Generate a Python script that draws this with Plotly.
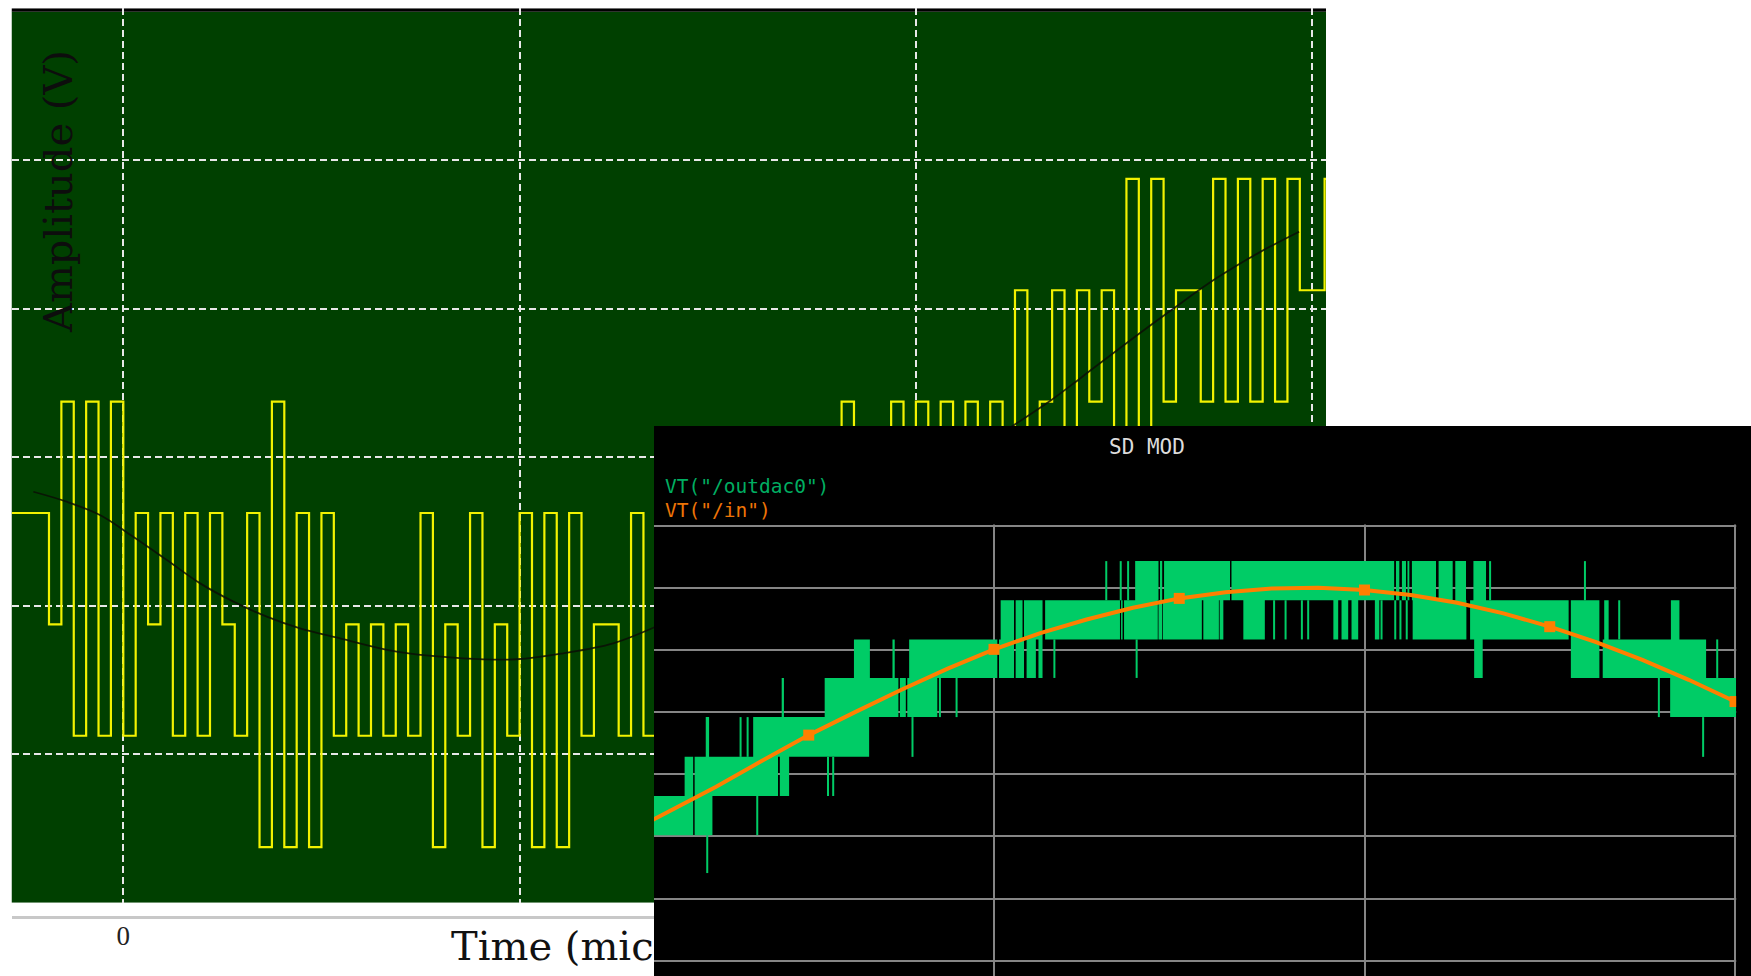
import plotly.graph_objects as go

W, H = 1751, 976

# ---------------- back chart: 3-bit modulator bitstream and its input ----------------
MOD_T0 = -9 / 32      # first clock interval start (grid units)
MOD_DT = 1 / 32       # clock period
# quantizer output, one value per clock period
mod_levels = [
    -0.375, -0.375, -0.375, -1.125, 0.375, -1.875, 0.375, -1.875,
    0.375, -1.875, -0.375, -1.125, -0.375, -1.875, -0.375, -1.875,
    -0.375, -1.125, -1.875, -0.375, -2.625, 0.375, -2.625, -0.375,
    -2.625, -0.375, -1.875, -1.125, -1.875, -1.125, -1.875, -1.125,
    -1.875, -0.375, -2.625, -1.125, -1.875, -0.375, -2.625, -1.125,
    -1.875, -0.375, -2.625, -0.375, -2.625, -0.375, -1.875, -1.125,
    -1.125, -1.875, -0.375, -1.875, -1.125, -0.375, -1.125, -0.375,
    -1.875, -0.375, -1.125, -0.375, -1.125, -0.375, -1.875, -0.375,
    -1.125, -0.375, -1.125, 0.375, -0.375, -1.125, -0.375, 0.375,
    -0.375, 0.375, -0.375, 0.375, -0.375, 0.375, -0.375, 0.375,
    -0.375, 1.125, -0.375, 0.375, 1.125, -0.375, 1.125, 0.375,
    1.125, -0.375, 1.875, -0.375, 1.875, 0.375, 1.125, 1.125,
    0.375, 1.875, 0.375, 1.875, 0.375, 1.875, 0.375, 1.875,
    1.125, 1.125, 1.875, 1.875,
]
# analog input applied to the modulator
input_t = [-0.227, -0.143, -0.059, 0.025, 0.110, 0.194, 0.278, 0.362, 0.446,
           0.547, 0.690, 0.858, 0.993, 1.110, 1.236, 1.354, 1.500, 1.700,
           1.900, 2.100, 2.242, 2.342, 2.420, 2.532, 2.644, 2.755, 2.867, 2.967]
input_v = [-0.232, -0.299, -0.389, -0.535, -0.692, -0.849, -0.972, -1.073, -1.152,
           -1.219, -1.309, -1.354, -1.360, -1.320, -1.253, -1.129, -0.950, -0.660,
           -0.360, -0.050, 0.207, 0.386, 0.543, 0.770, 0.990, 1.200, 1.380, 1.519]
back_grid_x = [0, 1, 2, 3]
back_grid_y = [-2, -1, 0, 1, 2]
back_tick_text = ["0", "", "", ""]
BACK_XR = [-0.2821, 3.0348]
BACK_YR = [-3.0, 3.0236]

# ---------------- front chart: SD MOD transient (time in us, volts) ----------------
in_t = [0, 1.25, 2.5, 3.75, 5, 6.25, 7.5, 8.75, 10, 11.25, 12.5, 13.75, 15,
        16.25, 17.5, 18.75, 20, 21.25, 22.5, 23.75, 25, 26.25, 27.5, 28.75, 30]
in_v = [0.502, 0.541, 0.580, 0.622, 0.663, 0.700, 0.736, 0.770, 0.801, 0.827,
        0.849, 0.868, 0.883, 0.893, 0.899, 0.900, 0.8965, 0.8885, 0.876, 0.859,
        0.8375, 0.8125, 0.784, 0.752, 0.717]

# DAC output levels
L0, L1, L2, L3, L4, L5, L6, L7, L8 = 0.441, 0.502, 0.565, 0.628, 0.692, 0.755, 0.817, 0.880, 0.943
# spans where outdac0 toggles between two adjacent levels: (t_start, t_end, low, high)
dac_bands = [
    (0.82, 1.88, L1, L2), (1.92, 2.40, L1, L2),
    (1.65, 1.88, L2, L3), (1.92, 4.17, L2, L3), (4.22, 4.47, L2, L3),
    (2.22, 2.31, L3, L4), (3.50, 6.63, L3, L4),
    (4.27, 4.33, L4, L5), (5.43, 7.42, L4, L5), (7.46, 7.62, L4, L5), (7.66, 8.47, L4, L5),
    (6.22, 6.65, L5, L6), (7.26, 7.32, L5, L6), (7.71, 10.09, L5, L6), (10.135, 10.54, L5, L6),
    (10.585, 10.81, L5, L6), (10.88, 11.13, L5, L6), (11.20, 11.31, L5, L6),
    (10.18, 10.54, L6, L7), (10.585, 10.77, L6, L7), (10.81, 11.31, L6, L7), (11.38, 13.40, L6, L7),
    (13.43, 13.47, L6, L7), (13.51, 14.42, L6, L7), (14.44, 14.54, L6, L7), (14.56, 15.61, L6, L7),
    (15.65, 16.07, L6, L7), (16.09, 16.19, L6, L7), (16.73, 17.31, L6, L7), (19.16, 19.29, L6, L7),
    (19.38, 19.56, L6, L7), (19.65, 19.83, L6, L7), (20.28, 20.40, L6, L7), (21.30, 22.75, L6, L7),
    (22.85, 25.51, L6, L7), (25.57, 26.34, L6, L7), (26.47, 26.59, L6, L7), (28.27, 28.50, L6, L7),
    (13.81, 14.44, L7, L8), (14.48, 14.54, L7, L8), (14.59, 16.37, L7, L8), (16.41, 20.80, L7, L8),
    (20.85, 20.94, L7, L8), (21.01, 21.12, L7, L8), (21.16, 21.21, L7, L8), (21.28, 21.93, L7, L8),
    (22.00, 22.38, L7, L8), (22.45, 22.74, L7, L8), (22.94, 23.28, L7, L8),
    (22.96, 23.19, L5, L6), (25.57, 26.34, L5, L6), (26.43, 29.22, L5, L6),
    (28.25, 30.03, L4, L5),
]
# isolated single-step excursions: (t, low, high)
dac_spikes = [
    (2.26, L0, L1), (3.16, L3, L4), (3.35, L3, L4), (3.61, L1, L2),
    (5.52, L2, L3), (5.66, L2, L3), (7.80, L3, L4), (8.54, L4, L5), (8.99, L4, L5),
    (11.63, L5, L6), (13.03, L7, L8), (13.42, L7, L8), (13.62, L7, L8), (13.85, L5, L6),
    (17.56, L6, L7), (17.87, L6, L7), (18.31, L6, L7), (18.48, L6, L7),
    (20.46, L6, L7), (20.83, L6, L7), (20.97, L6, L7), (21.14, L6, L7),
    (23.39, L7, L8), (25.95, L7, L8), (26.875, L6, L7), (27.945, L4, L5),
    (29.14, L3, L4), (29.52, L5, L6),
]
front_grid_x = [10, 20, 30]
front_grid_y = [0.3, 0.4, 0.5, 0.6, 0.7, 0.8, 0.9, 1.0]
FRONT_XR = [0.8232, 30.432]
FRONT_YR = [0.27535, 1.16044]

# ---------------- build the figure ----------------
fig = go.Figure()

# back chart traces (subplot xy)
fig.add_trace(go.Scatter(
    x0=MOD_T0, dx=MOD_DT, y=mod_levels, mode="lines",
    line=dict(shape="hv", color="#F2F200", width=2.2),
    xaxis="x", yaxis="y", hoverinfo="skip"))
fig.add_trace(go.Scatter(
    x=input_t, y=input_v, mode="lines",
    line=dict(color="rgba(10,14,6,0.85)", width=1.8, shape="spline"),
    xaxis="x", yaxis="y", hoverinfo="skip"))

# axis caption under the back chart (subplot x2y2, covered by the front chart)
fig.add_trace(go.Scatter(
    x=[0.827], y=[0.45], text=["Time (microseconds)"], mode="text",
    textposition="middle right",
    textfont=dict(family="DejaVu Serif", size=40, color="#111111"),
    xaxis="x2", yaxis="y2", hoverinfo="skip"))

# front chart traces (subplot x3y3)
band_x, band_y = [], []
for t0, t1, lo, hi in dac_bands:
    band_x += [t0, t1, t1, t0, t0, None]
    band_y += [lo, lo, hi, hi, lo, None]
fig.add_trace(go.Scatter(
    x=band_x, y=band_y, mode="lines", fill="toself", fillcolor="#00CC66",
    line=dict(width=0, color="#00CC66"),
    xaxis="x3", yaxis="y3", hoverinfo="skip"))

spike_x, spike_y = [], []
for t, lo, hi in dac_spikes:
    spike_x += [t, t, None]
    spike_y += [lo, hi, None]
fig.add_trace(go.Scatter(
    x=spike_x, y=spike_y, mode="lines",
    line=dict(width=2, color="#00CC66"),
    xaxis="x3", yaxis="y3", hoverinfo="skip"))

fig.add_trace(go.Scatter(
    x=in_t, y=in_v, mode="lines+markers",
    line=dict(color="#FF7F00", width=4),
    marker=dict(symbol="square", color="#FF7F00", opacity=1,
                line=dict(width=0, color="#FF7F00"),
                size=[11 if t % 5 == 0 else 0 for t in in_t]),
    xaxis="x3", yaxis="y3", hoverinfo="skip"))

shapes = [
    # back chart plot area and its dark top rim
    dict(type="rect", xref="x", yref="y", x0=BACK_XR[0], x1=BACK_XR[1],
         y0=BACK_YR[0], y1=3.0, fillcolor="#004000", line=dict(width=0), layer="below"),
    dict(type="rect", xref="x", yref="y", x0=BACK_XR[0], x1=BACK_XR[1],
         y0=3.0, y1=BACK_YR[1], fillcolor="#000000", line=dict(width=0), layer="below"),
    # front chart window
    dict(type="rect", xref="x3", yref="y3", x0=FRONT_XR[0], x1=FRONT_XR[1],
         y0=FRONT_YR[0], y1=FRONT_YR[1], fillcolor="#000000", line=dict(width=0), layer="below"),
    # header strip and right margin of the front window
    dict(type="rect", xref="paper", yref="paper", x0=654 / W, x1=1.0,
         y0=1 - 524.6 / H, y1=1 - 426 / H, fillcolor="#000000", line=dict(width=0), layer="above"),
    dict(type="rect", xref="paper", yref="paper", x0=1736.2 / W, x1=1.0,
         y0=0, y1=1 - 426 / H, fillcolor="#000000", line=dict(width=0), layer="above"),
]

annotations = [
    dict(text="Amplitude (V)", x=58 / W, y=1 - 192 / H, xref="paper", yref="paper",
         textangle=-90, showarrow=False, xanchor="center", yanchor="middle",
         font=dict(family="DejaVu Serif", size=40, color="#0d0d0d")),
    dict(text="SD MOD", x=1146.7 / W, y=1 - 447.3 / H, xref="paper", yref="paper",
         showarrow=False, xanchor="center", yanchor="middle",
         font=dict(family="DejaVu Sans Mono", size=21, color="#DCDCDC")),
    dict(text='VT("/outdac0")', x=663 / W, y=1 - 486.7 / H, xref="paper", yref="paper",
         showarrow=False, xanchor="left", yanchor="middle",
         font=dict(family="DejaVu Sans Mono", size=19.5, color="#00AE62")),
    dict(text='VT("/in")', x=663 / W, y=1 - 510 / H, xref="paper", yref="paper",
         showarrow=False, xanchor="left", yanchor="middle",
         font=dict(family="DejaVu Sans Mono", size=19.5, color="#EE7406")),
]

back_dom_x = [11.5 / W, 1326 / W]
fig.update_layout(
    width=W, height=H, margin=dict(l=0, r=0, t=0, b=0),
    paper_bgcolor="#FFFFFF", plot_bgcolor="rgba(0,0,0,0)",
    showlegend=False, shapes=shapes, annotations=annotations,
    xaxis=dict(domain=back_dom_x, range=BACK_XR, tickvals=back_grid_x, showticklabels=False,
               showgrid=True, gridcolor="#E8E8E8", gridwidth=2, griddash="7px,4px",
               zeroline=False, ticks="", showline=False, anchor="y"),
    yaxis=dict(domain=[1 - 902.8 / H, 1 - 8.3 / H], range=BACK_YR, tickvals=back_grid_y,
               showticklabels=False, showgrid=True, gridcolor="#E8E8E8", gridwidth=2,
               griddash="7px,4px", zeroline=False, ticks="", anchor="x"),
    xaxis2=dict(domain=back_dom_x, range=BACK_XR, side="top", anchor="y2",
                showline=True, linecolor="#C8C8C8", linewidth=2.5, showgrid=False,
                zeroline=False, ticks="", tickvals=back_grid_x, ticktext=back_tick_text,
                ticklabelposition="inside", ticklabelstandoff=10,
                tickfont=dict(family="Liberation Serif", size=27, color="#222222")),
    yaxis2=dict(domain=[0, 1 - 918.8 / H], range=[0, 1], visible=False, anchor="x2"),
    xaxis3=dict(domain=[654 / W, 1.0], range=FRONT_XR, tickvals=front_grid_x,
                showticklabels=False, showgrid=True, gridcolor="#858585", gridwidth=2,
                zeroline=False, ticks="", anchor="y3"),
    yaxis3=dict(domain=[0, 1 - 426 / H], range=FRONT_YR, tickvals=front_grid_y,
                showticklabels=False, showgrid=True, gridcolor="#858585", gridwidth=2,
                zeroline=False, ticks="", anchor="x3"),
)

fig.write_html("out.html", config={"displayModeBar": False})
